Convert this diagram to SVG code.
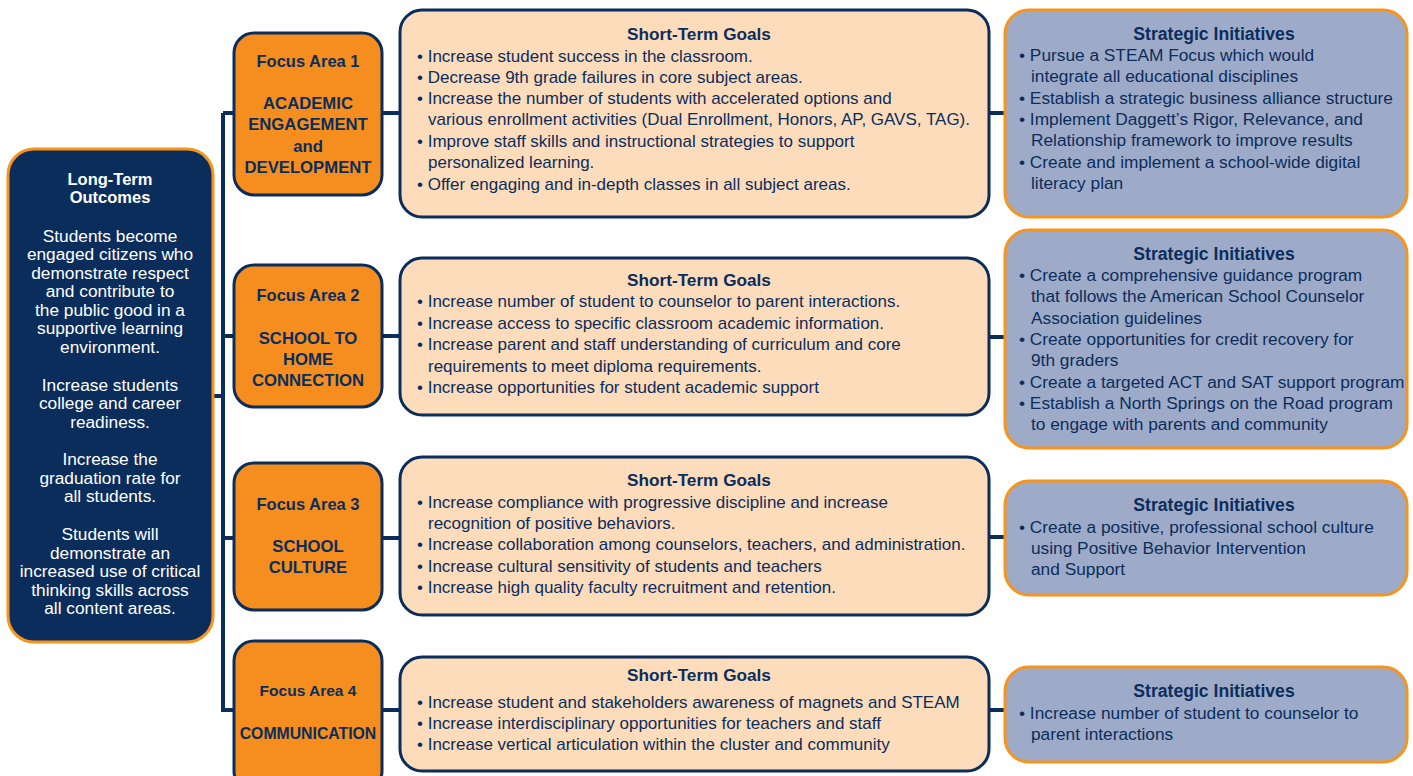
<svg xmlns="http://www.w3.org/2000/svg" width="1413" height="776" viewBox="0 0 1413 776">
<style>
.lt{fill:#0b2d5b;stroke:#f7941d;stroke-width:3}
.fa{fill:#f68d1f;stroke:#0b2d5b;stroke-width:3}
.sg{fill:#fddcbc;stroke:#0b2d5b;stroke-width:3}
.si{fill:#9eabc8;stroke:#f7941d;stroke-width:3}
.con{stroke:#0b2d5b;stroke-width:4;fill:none}
text{font-family:"Liberation Sans",Arial,sans-serif;fill:#0b2d5b}
.w{fill:#ffffff;font-size:17.3px;text-anchor:middle}
.wb{fill:#ffffff;font-size:16.5px;font-weight:bold;text-anchor:middle}
.fb{font-size:16.5px;font-weight:bold;text-anchor:middle}
.ft{font-size:16.7px;font-weight:bold;text-anchor:middle}
.h{font-size:17.2px;font-weight:bold;text-anchor:middle}
.hs{font-size:17.6px;font-weight:bold;text-anchor:middle}
.b{font-size:17px}
.s{font-size:17.3px}
</style>
<rect width="1413" height="776" fill="#ffffff"/>
<g id="connectors">
<path class="con" d="M213 396H223M223 113V712M223 113H234M223 336H234M223 538H234M223 710H234"/>
<path class="con" d="M382 113H400M382 336H400M382 538H400M382 710H400"/>
<path class="con" d="M989 113H1005M989 337H1005M989 537H1005M989 710H1005"/>
</g>
<g id="long-term">
<rect class="lt" x="8" y="149" width="205" height="493" rx="26"/>
<text class="wb" x="110" y="185">Long-Term</text>
<text class="wb" x="110" y="203">Outcomes</text>
<text class="w" x="110" y="242">Students become</text>
<text class="w" x="110" y="260">engaged citizens who</text>
<text class="w" x="110" y="279">demonstrate respect</text>
<text class="w" x="110" y="297">and contribute to</text>
<text class="w" x="110" y="316">the public good in a</text>
<text class="w" x="110" y="334">supportive learning</text>
<text class="w" x="110" y="353">environment.</text>
<text class="w" x="110" y="391">Increase students</text>
<text class="w" x="110" y="409">college and career</text>
<text class="w" x="110" y="428">readiness.</text>
<text class="w" x="110" y="465">Increase the</text>
<text class="w" x="110" y="484">graduation rate for</text>
<text class="w" x="110" y="502">all students.</text>
<text class="w" x="110" y="540">Students will</text>
<text class="w" x="110" y="559">demonstrate an</text>
<text class="w" x="110" y="577">increased use of critical</text>
<text class="w" x="110" y="596">thinking skills across</text>
<text class="w" x="110" y="614">all content areas.</text>
</g>
<g id="focus1">
<rect class="fa" x="234" y="33" width="148" height="162" rx="20"/>
<text class="fb" x="308" y="67">Focus Area 1</text>
<text class="ft" x="308" y="109">ACADEMIC</text>
<text class="ft" x="308" y="130">ENGAGEMENT</text>
<text class="ft" x="308" y="152">and</text>
<text class="ft" x="308" y="173">DEVELOPMENT</text>
</g>
<g id="focus2">
<rect class="fa" x="234" y="265" width="148" height="142" rx="20"/>
<text class="fb" x="308" y="301">Focus Area 2</text>
<text class="ft" x="308" y="344">SCHOOL TO</text>
<text class="ft" x="308" y="365">HOME</text>
<text class="ft" x="308" y="386">CONNECTION</text>
</g>
<g id="focus3">
<rect class="fa" x="234" y="463" width="148" height="147" rx="20"/>
<text class="fb" x="308" y="510">Focus Area 3</text>
<text class="ft" x="308" y="552">SCHOOL</text>
<text class="ft" x="308" y="573">CULTURE</text>
</g>
<g id="focus4">
<rect class="fa" x="234" y="641" width="148" height="150" rx="20"/>
<text class="fb" x="308" y="696" style="font-size:15.5px">Focus Area 4</text>
<text class="ft" x="308" y="739" style="font-size:15.8px">COMMUNICATION</text>
</g>
<g id="goals1">
<rect class="sg" x="400" y="10" width="589" height="207" rx="22"/>
<text class="h" x="699" y="40">Short-Term Goals</text>
<text class="b" x="417" y="62">• Increase student success in the classroom.</text>
<text class="b" x="417" y="83">• Decrease 9th grade failures in core subject areas.</text>
<text class="b" x="417" y="104">• Increase the number of students with accelerated options and</text>
<text class="b" x="428" y="125">various enrollment activities (Dual Enrollment, Honors, AP, GAVS, TAG).</text>
<text class="b" x="417" y="147">• Improve staff skills and instructional strategies to support</text>
<text class="b" x="428" y="168">personalized learning.</text>
<text class="b" x="417" y="190">• Offer engaging and in-depth classes in all subject areas.</text>
</g>
<g id="goals2">
<rect class="sg" x="400" y="258" width="589" height="157" rx="22"/>
<text class="h" x="699" y="286">Short-Term Goals</text>
<text class="b" x="417" y="307">• Increase number of student to counselor to parent interactions.</text>
<text class="b" x="417" y="329">• Increase access to specific classroom academic information.</text>
<text class="b" x="417" y="350">• Increase parent and staff understanding of curriculum and core</text>
<text class="b" x="428" y="372">requirements to meet diploma requirements.</text>
<text class="b" x="417" y="393">• Increase opportunities for student academic support</text>
</g>
<g id="goals3">
<rect class="sg" x="400" y="457" width="589" height="158" rx="22"/>
<text class="h" x="699" y="486">Short-Term Goals</text>
<text class="b" x="417" y="508">• Increase compliance with progressive discipline and increase</text>
<text class="b" x="428" y="529">recognition of positive behaviors.</text>
<text class="b" x="417" y="550">• Increase collaboration among counselors, teachers, and administration.</text>
<text class="b" x="417" y="572">• Increase cultural sensitivity of students and teachers</text>
<text class="b" x="417" y="593">• Increase high quality faculty recruitment and retention.</text>
</g>
<g id="goals4">
<rect class="sg" x="400" y="657" width="589" height="114" rx="22"/>
<text class="h" x="699" y="681">Short-Term Goals</text>
<text class="b" x="417" y="708">• Increase student and stakeholders awareness of magnets and STEAM</text>
<text class="b" x="417" y="729">• Increase interdisciplinary opportunities for teachers and staff</text>
<text class="b" x="417" y="750">• Increase vertical articulation within the cluster and community</text>
</g>
<g id="initiatives1">
<rect class="si" x="1005" y="10" width="402" height="207" rx="24"/>
<text class="hs" x="1214" y="40">Strategic Initiatives</text>
<text class="s" x="1019" y="61">• Pursue a STEAM Focus which would</text>
<text class="s" x="1031" y="82">integrate all educational disciplines</text>
<text class="s" x="1019" y="104">• Establish a strategic business alliance structure</text>
<text class="s" x="1019" y="125">• Implement Daggett’s Rigor, Relevance, and</text>
<text class="s" x="1031" y="146">Relationship framework to improve results</text>
<text class="s" x="1019" y="168">• Create and implement a school-wide digital</text>
<text class="s" x="1031" y="189">literacy plan</text>
</g>
<g id="initiatives2">
<rect class="si" x="1005" y="230" width="402" height="218" rx="24"/>
<text class="hs" x="1214" y="260">Strategic Initiatives</text>
<text class="s" x="1019" y="281">• Create a comprehensive guidance program</text>
<text class="s" x="1031" y="302">that follows the American School Counselor</text>
<text class="s" x="1031" y="324">Association guidelines</text>
<text class="s" x="1019" y="345">• Create opportunities for credit recovery for</text>
<text class="s" x="1031" y="366">9th graders</text>
<text class="s" x="1019" y="388">• Create a targeted ACT and SAT support program</text>
<text class="s" x="1019" y="409">• Establish a North Springs on the Road program</text>
<text class="s" x="1031" y="430">to engage with parents and community</text>
</g>
<g id="initiatives3">
<rect class="si" x="1005" y="481" width="402" height="114" rx="24"/>
<text class="hs" x="1214" y="511">Strategic Initiatives</text>
<text class="s" x="1019" y="533">• Create a positive, professional school culture</text>
<text class="s" x="1031" y="554">using Positive Behavior Intervention</text>
<text class="s" x="1031" y="575">and Support</text>
</g>
<g id="initiatives4">
<rect class="si" x="1005" y="667" width="402" height="95" rx="24"/>
<text class="hs" x="1214" y="697">Strategic Initiatives</text>
<text class="s" x="1019" y="719">• Increase number of student to counselor to</text>
<text class="s" x="1031" y="740">parent interactions</text>
</g>
</svg>
